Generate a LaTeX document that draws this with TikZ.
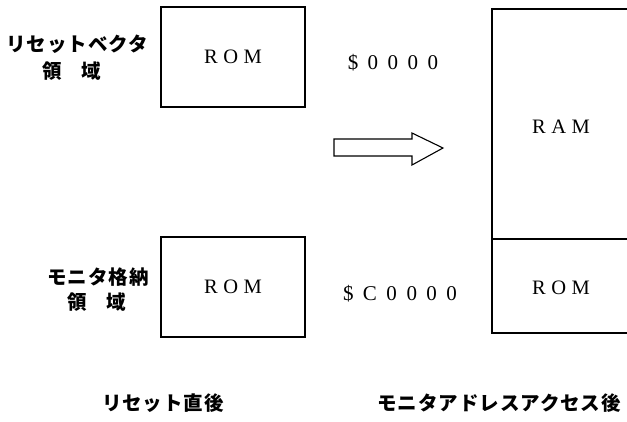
\documentclass[tikz,border=0pt]{standalone}
\usepackage{fontspec}
\setmainfont{Liberation Serif}
\newfontfamily\jp{Noto Sans CJK JP}[LetterSpace=5]
\begin{document}
\begin{tikzpicture}[x=1pt,y=-1pt,
  membox/.style={draw, line width=1.8pt, inner sep=0pt},
  memtxt/.style={font=\fontsize{20.5}{22}\selectfont, inner sep=0pt},
  addr/.style={font=\fontsize{21}{23}\selectfont, inner sep=0pt},
  jtxt/.style={font=\jp\bfseries\fontsize{19.5}{21}\selectfont, inner sep=0pt, align=center},
  bigarrow/.style={draw, line width=1.1pt, fill=white}]
\useasboundingbox (0,0) rectangle (627,421);
% left boxes
\node[membox, minimum width=144pt, minimum height=100pt] (romtop) at (233,57) {};
\node[memtxt] (romtoptxt) at (romtop.center) {R\hspace{5.5pt}O\hspace{5.5pt}M};
\node[membox, minimum width=144pt, minimum height=100pt] (rombot) at (233,287) {};
\node[memtxt] at (rombot.center) {R\hspace{5.5pt}O\hspace{5.5pt}M};
% left labels
\node[jtxt] (lab1) at (77,44) {リセットベクタ};
\node[jtxt] (lab1b) at (72,71) {領\hspace{20pt}域};
\node[jtxt] (lab2) at (98,277) {モニタ格納};
\node[jtxt] (lab2b) at (97,302) {領\hspace{20pt}域};
% addresses
\node[addr] (a0) at (393,63) {\$\hspace{9.5pt}0\hspace{9.5pt}0\hspace{9.5pt}0\hspace{9.5pt}0};
\node[addr] (a1) at (400,294) {\$\hspace{9.5pt}C\hspace{9.5pt}0\hspace{9.5pt}0\hspace{9.5pt}0\hspace{9.5pt}0};
% arrow
\draw[bigarrow] (334,139) -- (412,139) -- (412,133) -- (443,148) -- (412,165) -- (412,156) -- (334,156) -- cycle;
% right memory map
\coordinate (rtl) at (492,9);
\coordinate (rdl) at (492,239);
\coordinate (rbl) at (492,333);
\draw[line width=1.8pt] (632,9) -- (rtl) -- (rbl) -- (632,333);
\draw[line width=1.8pt] (rdl) -- (632,239);
\node[memtxt] (ram) at (561,127) {R\hspace{5.5pt}A\hspace{5.5pt}M};
\node[memtxt] (romr) at (561,288) {R\hspace{5.5pt}O\hspace{5.5pt}M};
% captions
\node[jtxt] (c1) at (163,403) {リセット直後};
\node[jtxt, anchor=west] (c2) at (377,403) {モニタアドレスアクセス後};
\end{tikzpicture}
\end{document}
